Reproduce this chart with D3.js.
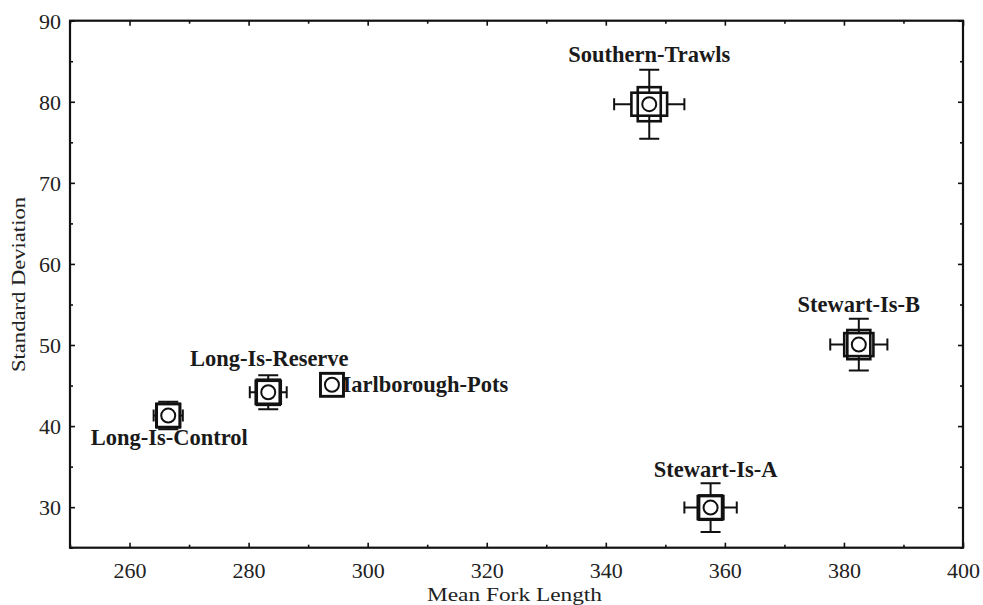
<!DOCTYPE html>
<html>
<head>
<meta charset="utf-8">
<script src="https://cdn.jsdelivr.net/npm/d3@7"></script>
<style>
  body { margin: 0; background: #fff; }
  svg { display: block; }
</style>
</head>
<body>
<div id="chart"></div>
<script>
// data
const sites = ['Southern-Trawls', 'Stewart-Is-B', 'Stewart-Is-A', 'Long-Is-Reserve', 'Long-Is-Control', 'Marlborough-Pots'];
const meanFork = [347.3, 382.5, 357.6, 283.3, 266.5, 294.0];
const stdDev   = [79.7, 50.05, 29.95, 44.17, 41.3, 45.1];
// box half-extents (mean +/- SE)
const boxFork  = [3.0, 2.45, 2.15, 2.1, 2.0, 1.8];
const boxSD    = [2.1, 1.8, 1.5, 1.55, 1.45, 1.3];
// whisker half-extents
const whiskFork = [5.9, 4.8, 4.4, 3.1, 2.45, 2.0];
const whiskSD   = [4.25, 3.2, 3.0, 2.1, 1.7, 1.4];

const xTicks = [260, 280, 300, 320, 340, 360, 380, 400];
const yTicks = [30, 40, 50, 60, 70, 80, 90];

// label placement (px offsets from the point)
const labelPos = [
  { dx: 0, dy: -42, anchor: 'middle' },
  { dx: 0, dy: -33, anchor: 'middle' },
  { dx: 5, dy: -31, anchor: 'middle' },
  { dx: 1, dy: -26, anchor: 'middle' },
  { dx: 1, dy: 29, anchor: 'middle' },
  { dx: -2, dy: 7, anchor: 'start' }
];

const W = 983, H = 605;
const MARGIN = { TOP: 20.7, LEFT: 70, RIGHT: 20, BOTTOM: 57.3 };

const data = sites.map((s, i) => ({
  site: s, x: meanFork[i], y: stdDev[i],
  bx: boxFork[i], by: boxSD[i], wx: whiskFork[i], wy: whiskSD[i], lab: labelPos[i]
}));

const svg = d3.select('#chart').append('svg')
  .attr('width', W)
  .attr('height', H);

const x = d3.scaleLinear().domain([250, 400]).range([MARGIN.LEFT, W - MARGIN.RIGHT]);
const y = d3.scaleLinear().domain([25, 90]).range([H - MARGIN.BOTTOM, MARGIN.TOP]);

const serif = '"Liberation Serif", "Times New Roman", serif';

// axes, ticks pointing inward on all four sides
const minorX = d3.range(250, 401, 10).filter(v => v % 20 !== 0);
const minorY = d3.range(25, 91, 5).filter(v => v % 10 !== 0);

function drawAxis(axisFn, scale, ticks, size, transform, labels) {
  const g = svg.append('g')
    .attr('transform', transform)
    .call(axisFn(scale).tickValues(ticks).tickSize(size).tickFormat(labels ? d3.format('d') : ''));
  g.select('.domain').remove();
  g.selectAll('.tick line').attr('stroke', '#111').attr('stroke-width', 1.6);
  return g;
}

const bottomY = y.range()[0], topY = y.range()[1];
const leftX = x.range()[0], rightX = x.range()[1];

const xb = drawAxis(d3.axisBottom, x, xTicks, -5, `translate(0,${bottomY})`, true);
xb.selectAll('.tick text')
  .attr('y', 30).attr('dy', 0)
  .attr('font-family', serif).attr('font-size', 22).attr('fill', '#222');
drawAxis(d3.axisBottom, x, minorX, -3, `translate(0,${bottomY})`, false);
drawAxis(d3.axisTop, x, xTicks, -5, `translate(0,${topY})`, false);
drawAxis(d3.axisTop, x, minorX, -3, `translate(0,${topY})`, false);

const yl = drawAxis(d3.axisLeft, y, yTicks, -5, `translate(${leftX},0)`, true);
yl.selectAll('.tick text')
  .attr('x', -9).attr('dy', '0.34em')
  .attr('font-family', serif).attr('font-size', 22).attr('fill', '#222');
drawAxis(d3.axisLeft, y, minorY, -3, `translate(${leftX},0)`, false);
drawAxis(d3.axisRight, y, yTicks, -5, `translate(${rightX},0)`, false);
drawAxis(d3.axisRight, y, minorY, -3, `translate(${rightX},0)`, false);

svg.append('rect')
  .attr('x', leftX).attr('y', topY)
  .attr('width', rightX - leftX).attr('height', bottomY - topY)
  .attr('fill', 'none').attr('stroke', '#111').attr('stroke-width', 2.2);

// axis titles
svg.append('text')
  .attr('x', (leftX + rightX) / 2 - 2)
  .attr('y', 601)
  .attr('text-anchor', 'middle')
  .attr('font-family', serif).attr('font-size', 18).attr('fill', '#222')
  .attr('textLength', 175).attr('lengthAdjust', 'spacingAndGlyphs')
  .text('Mean Fork Length');

svg.append('text')
  .attr('transform', `translate(25,${284.5}) rotate(-90)`)
  .attr('text-anchor', 'middle')
  .attr('font-family', serif).attr('font-size', 18).attr('fill', '#222')
  .attr('textLength', 175).attr('lengthAdjust', 'spacingAndGlyphs')
  .text('Standard Deviation');

// point labels (drawn first so markers sit on top)
svg.append('g').selectAll('text')
  .data(data)
  .join('text')
  .attr('x', d => x(d.x) + d.lab.dx)
  .attr('y', d => y(d.y) + d.lab.dy)
  .attr('text-anchor', d => d.lab.anchor)
  .attr('font-family', serif).attr('font-weight', 'bold').attr('font-size', 22.5)
  .attr('fill', '#1a1a1a')
  .text(d => d.site);

// markers
const S = 11.5;    // fixed half-size of the marker square
const CAPV = 10;   // half-width of caps on vertical whiskers
const CAPH = 6;    // half-height of caps on horizontal whiskers

const pts = svg.append('g').selectAll('g')
  .data(data)
  .join('g')
  .attr('stroke', '#111')
  .attr('fill', 'none');

// vertical whisker + caps
pts.append('path')
  .attr('stroke-width', 2)
  .attr('d', d => {
    const cx = x(d.x), t = y(d.y + d.wy), b = y(d.y - d.wy);
    return `M${cx},${t}V${b}M${cx - CAPV},${t}H${cx + CAPV}M${cx - CAPV},${b}H${cx + CAPV}`;
  });
// horizontal whisker + caps
pts.append('path')
  .attr('stroke-width', 2)
  .attr('d', d => {
    const cy = y(d.y), l = x(d.x - d.wx), r = x(d.x + d.wx);
    return `M${l},${cy}H${r}M${l},${cy - CAPH}V${cy + CAPH}M${r},${cy - CAPH}V${cy + CAPH}`;
  });

// wide box: fork-length SE by fixed height
pts.append('rect')
  .attr('fill', '#fff')
  .attr('stroke-width', 2.6)
  .attr('x', d => x(d.x) - Math.max(x(d.x + d.bx) - x(d.x), S))
  .attr('width', d => 2 * Math.max(x(d.x + d.bx) - x(d.x), S))
  .attr('y', d => y(d.y) - S)
  .attr('height', 2 * S);

// tall box: SD SE by fixed width
pts.append('rect')
  .attr('fill', 'none')
  .attr('stroke-width', 2.6)
  .attr('x', d => x(d.x) - S)
  .attr('width', 2 * S)
  .attr('y', d => y(d.y) - Math.max(y(d.y) - y(d.y + d.by), S))
  .attr('height', d => 2 * Math.max(y(d.y) - y(d.y + d.by), S));

// mean circle
pts.append('circle')
  .attr('fill', '#fff')
  .attr('stroke-width', 2)
  .attr('cx', d => x(d.x))
  .attr('cy', d => y(d.y))
  .attr('r', 7);
</script>
</body>
</html>
